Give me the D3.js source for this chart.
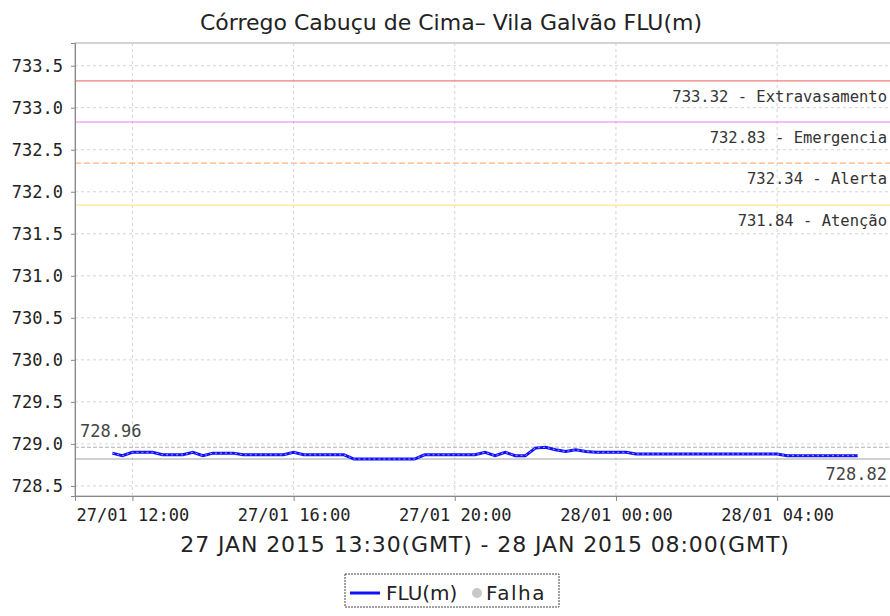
<!DOCTYPE html>
<html>
<head>
<meta charset="utf-8">
<script src="https://cdn.jsdelivr.net/npm/d3@7"></script>
<style>
  body { margin: 0; background: #fff; }
  svg { display: block; }
</style>
</head>
<body>
<div id="chart"></div>
<script>
// chart texts
const chartTitle = "Córrego Cabuçu de Cima– Vila Galvão FLU(m)";
const rangeLabel = "27 JAN 2015 13:30(GMT) - 28 JAN 2015 08:00(GMT)";
const legendLabels = ["FLU(m)", "Falha"];

// level readings, every 15 min (local time)
const times = [
  "2015-01-27 11:30", "2015-01-27 11:45", "2015-01-27 12:00", "2015-01-27 12:15",
  "2015-01-27 12:30", "2015-01-27 12:45", "2015-01-27 13:00", "2015-01-27 13:15",
  "2015-01-27 13:30", "2015-01-27 13:45", "2015-01-27 14:00", "2015-01-27 14:15",
  "2015-01-27 14:30", "2015-01-27 14:45", "2015-01-27 15:00", "2015-01-27 15:15",
  "2015-01-27 15:30", "2015-01-27 15:45", "2015-01-27 16:00", "2015-01-27 16:15",
  "2015-01-27 16:30", "2015-01-27 16:45", "2015-01-27 17:00", "2015-01-27 17:15",
  "2015-01-27 17:30", "2015-01-27 17:45", "2015-01-27 18:00", "2015-01-27 18:15",
  "2015-01-27 18:30", "2015-01-27 18:45", "2015-01-27 19:00", "2015-01-27 19:15",
  "2015-01-27 19:30", "2015-01-27 19:45", "2015-01-27 20:00", "2015-01-27 20:15",
  "2015-01-27 20:30", "2015-01-27 20:45", "2015-01-27 21:00", "2015-01-27 21:15",
  "2015-01-27 21:30", "2015-01-27 21:45", "2015-01-27 22:00", "2015-01-27 22:15",
  "2015-01-27 22:30", "2015-01-27 22:45", "2015-01-27 23:00", "2015-01-27 23:15",
  "2015-01-27 23:30", "2015-01-27 23:45", "2015-01-28 00:00", "2015-01-28 00:15",
  "2015-01-28 00:30", "2015-01-28 00:45", "2015-01-28 01:00", "2015-01-28 01:15",
  "2015-01-28 01:30", "2015-01-28 01:45", "2015-01-28 02:00", "2015-01-28 02:15",
  "2015-01-28 02:30", "2015-01-28 02:45", "2015-01-28 03:00", "2015-01-28 03:15",
  "2015-01-28 03:30", "2015-01-28 03:45", "2015-01-28 04:00", "2015-01-28 04:15",
  "2015-01-28 04:30", "2015-01-28 04:45", "2015-01-28 05:00", "2015-01-28 05:15",
  "2015-01-28 05:30", "2015-01-28 05:45", "2015-01-28 06:00"
];
const levels = [
  728.89, 728.86, 728.90, 728.90, 728.90, 728.87, 728.87, 728.87,
  728.90, 728.86, 728.89, 728.89, 728.89, 728.87, 728.87, 728.87,
  728.87, 728.87, 728.90, 728.87, 728.87, 728.87, 728.87, 728.87,
  728.82, 728.82, 728.82, 728.82, 728.82, 728.82, 728.82, 728.87,
  728.87, 728.87, 728.87, 728.87, 728.87, 728.90, 728.86, 728.90,
  728.86, 728.86, 728.95, 728.96, 728.93, 728.91, 728.93, 728.91,
  728.90, 728.90, 728.90, 728.90, 728.88, 728.88, 728.88, 728.88,
  728.88, 728.88, 728.88, 728.88, 728.88, 728.88, 728.88, 728.88,
  728.88, 728.88, 728.88, 728.86, 728.86, 728.86, 728.86, 728.86,
  728.86, 728.86, 728.86
];
const maxLevel = 728.96;
const minLevel = 728.82;

// alert thresholds
const thresholdValues = [733.32, 732.83, 732.34, 731.84];
const thresholdNames = ["Extravasamento", "Emergencia", "Alerta", "Atenção"];
const thresholdColors = ["#f47c7c", "#f27cf2", "#ffb47e", "#ffe68c"];

// axes
const yDomain = [728.38, 733.77];
const yTickValues = [728.5, 729.0, 729.5, 730.0, 730.5, 731.0, 731.5, 732.0, 732.5, 733.0, 733.5];
const xTickTimes = ["2015-01-27 12:00", "2015-01-27 16:00", "2015-01-27 20:00", "2015-01-28 00:00", "2015-01-28 04:00"];

const W = 890, H = 616;
const plot = {left: 75, right: 895, top: 43, bottom: 496};
const mono = "'DejaVu Sans Mono', monospace";
const sans = "'DejaVu Sans', sans-serif";

const parse = d3.timeParse("%Y-%m-%d %H:%M");
const data = times.map((t, i) => ({t: parse(t), v: levels[i]}));

const svg = d3.select("#chart").append("svg")
    .attr("width", W)
    .attr("height", H);

// 5% padding on each side of the time span
const ext = d3.extent(data, d => d.t);
const pad = (ext[1] - ext[0]) * 0.05;
const x = d3.scaleTime()
    .domain([new Date(+ext[0] - pad), new Date(+ext[1] + pad)])
    .range([plot.left, plot.right]);
const y = d3.scaleLinear()
    .domain(yDomain)
    .range([plot.bottom, plot.top]);

// plot frame
svg.append("rect")
    .attr("x", plot.left).attr("y", plot.top)
    .attr("width", plot.right - plot.left).attr("height", plot.bottom - plot.top)
    .attr("fill", "#fff").attr("stroke", "#a8a8a8");

// grid
svg.append("g").selectAll("line")
    .data(yTickValues)
    .join("line")
    .attr("x1", plot.left).attr("x2", plot.right)
    .attr("y1", d => y(d)).attr("y2", d => y(d))
    .attr("stroke", "#d4d4d4").attr("stroke-dasharray", "3,3");
svg.append("g").selectAll("line")
    .data(xTickTimes.map(parse))
    .join("line")
    .attr("x1", d => x(d)).attr("x2", d => x(d))
    .attr("y1", plot.top).attr("y2", plot.bottom)
    .attr("stroke", "#d4d4d4").attr("stroke-dasharray", "3,3");

// thresholds
const th = svg.append("g").selectAll("g")
    .data(thresholdValues)
    .join("g");
th.append("line")
    .attr("x1", plot.left).attr("x2", plot.right)
    .attr("y1", d => y(d)).attr("y2", d => y(d))
    .attr("stroke", (d, i) => thresholdColors[i])
    .attr("stroke-width", 1.2)
    .attr("stroke-dasharray", (d, i) => i === 2 ? "6,3" : null);
th.append("text")
    .attr("x", 887)
    .attr("y", d => y(d) + 21)
    .attr("text-anchor", "end")
    .style("font-family", mono)
    .style("font-size", "15.5px")
    .attr("fill", "#333")
    .text((d, i) => d.toFixed(2) + " - " + thresholdNames[i]);

// max / min markers
svg.append("line")
    .attr("x1", plot.left).attr("x2", plot.right)
    .attr("y1", y(maxLevel)).attr("y2", y(maxLevel))
    .attr("stroke", "#b0b0b0").attr("stroke-dasharray", "4,2");
svg.append("line")
    .attr("x1", plot.left).attr("x2", plot.right)
    .attr("y1", y(minLevel)).attr("y2", y(minLevel))
    .attr("stroke", "#a0a0a0");
svg.append("text")
    .attr("x", 80).attr("y", y(maxLevel) - 10)
    .style("font-family", mono).style("font-size", "17px")
    .attr("fill", "#444")
    .text(maxLevel.toFixed(2));
svg.append("text")
    .attr("x", 887).attr("y", y(minLevel) + 21)
    .attr("text-anchor", "end")
    .style("font-family", mono).style("font-size", "17px")
    .attr("fill", "#444")
    .text(minLevel.toFixed(2));

// series
const line = d3.line().x(d => x(d.t)).y(d => y(d.v));
svg.append("path")
    .datum(data)
    .attr("fill", "none")
    .attr("stroke", "#1010ff")
    .attr("stroke-width", 3)
    .attr("d", line);
svg.append("path")
    .datum(data)
    .attr("fill", "none")
    .attr("stroke", "#c8c8ff")
    .attr("stroke-width", 0.8)
    .attr("stroke-dasharray", "2,3")
    .attr("d", line);

// axes
const yAxis = svg.append("g")
    .attr("transform", `translate(${plot.left},0)`)
    .call(d3.axisLeft(y).tickValues(yTickValues).tickFormat(d3.format(".1f")).tickSize(4).tickPadding(8));
const xAxis = svg.append("g")
    .attr("transform", `translate(0,${plot.bottom})`)
    .call(d3.axisBottom(x).tickValues(xTickTimes.map(parse)).tickFormat(d3.timeFormat("%d/%m %H:%M")).tickSize(5).tickPadding(8));
[yAxis, xAxis].forEach(g => {
  g.select(".domain").attr("stroke", "#888");
  g.selectAll(".tick line").attr("stroke", "#888");
  g.selectAll(".tick text")
      .style("font-family", mono)
      .style("font-size", "17px")
      .attr("fill", "#222");
});
yAxis.selectAll(".tick text").attr("dy", "0.35em");

// titles
svg.append("text")
    .attr("x", 451).attr("y", 30)
    .attr("text-anchor", "middle")
    .style("font-family", sans).style("font-size", "22px")
    .attr("fill", "#222")
    .text(chartTitle);
svg.append("text")
    .attr("x", (plot.left + plot.right) / 2).attr("y", 552)
    .attr("text-anchor", "middle")
    .style("font-family", sans).style("font-size", "22px")
    .style("letter-spacing", "0.9px")
    .attr("fill", "#222")
    .text(rangeLabel);

// legend
const lg = svg.append("g");
lg.append("rect")
    .attr("x", 345).attr("y", 574).attr("width", 214).attr("height", 33)
    .attr("fill", "#fff").attr("stroke", "#444").attr("stroke-dasharray", "2,1");
lg.append("line")
    .attr("x1", 350).attr("x2", 380).attr("y1", 593).attr("y2", 593)
    .attr("stroke", "#1010ff").attr("stroke-width", 3);
lg.append("text")
    .attr("x", 386).attr("y", 600)
    .style("font-family", sans).style("font-size", "20px")
    .attr("fill", "#222")
    .text(legendLabels[0]);
lg.append("circle")
    .attr("cx", 477).attr("cy", 593).attr("r", 5)
    .attr("fill", "#c8c8c8");
lg.append("text")
    .attr("x", 486).attr("y", 600)
    .style("font-family", sans).style("font-size", "20px")
    .style("letter-spacing", "1.5px")
    .attr("fill", "#222")
    .text(legendLabels[1]);
</script>
</body>
</html>
